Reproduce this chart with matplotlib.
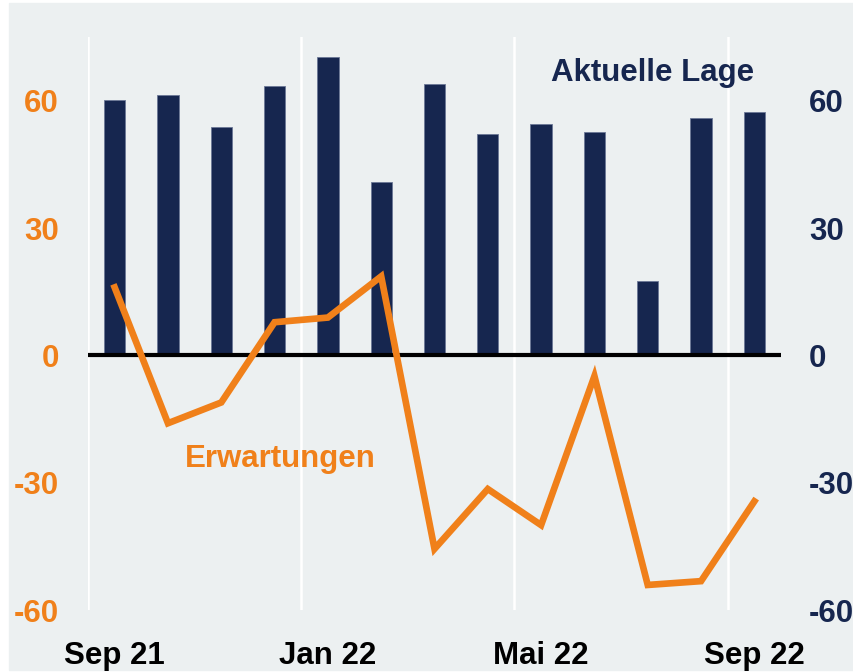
import matplotlib.pyplot as plt
from matplotlib.patches import Rectangle

# Daten (Sep 21 - Sep 22)
monate = ['Sep 21', 'Okt 21', 'Nov 21', 'Dez 21', 'Jan 22', 'Feb 22', 'Mrz 22',
          'Apr 22', 'Mai 22', 'Jun 22', 'Jul 22', 'Aug 22', 'Sep 22']
aktuelle_lage = [60.2, 61.4, 53.9, 63.5, 70.4, 40.9, 64.0, 52.2, 54.6, 52.5, 17.6, 55.8, 57.4]
erwartungen = [16.0, -16.0, -11.1, 7.8, 8.9, 18.6, -45.6, -31.5, -40.0, -4.9, -54.1, -53.2, -34.4]
tick_idx = [0, 4, 8, 12]
y_ticks = [-60, -30, 0, 30, 60]

navy = '#16264f'
orange = '#f0801a'
bg = '#ecf0f1'

plt.rcParams['font.family'] = ['Liberation Sans', 'DejaVu Sans']
plt.rcParams['font.weight'] = 'bold'

fig = plt.figure(figsize=(8.54, 6.72), dpi=100, facecolor='white')
fig.patches.append(Rectangle((9 / 854, 2 / 672), 1 - 9 / 854, 1 - 5 / 672,
                             transform=fig.transFigure, color=bg, zorder=-10))

ax = fig.add_axes([88 / 854, 1 - 610 / 672, (781 - 88) / 854, (610 - 37) / 672])
ax.set_facecolor(bg)
for s in ax.spines.values():
    s.set_visible(False)

x = list(range(len(monate)))

# Monatsgrenzen als weiße Gitterlinien
for i in tick_idx:
    ax.axvline(i - 0.5, color='white', lw=1.8, zorder=0)

ax.bar(x, aktuelle_lage, width=0.4, color=navy, edgecolor='#6b7796', linewidth=0.6, zorder=2)
ax.axhline(0, color='black', lw=3, zorder=3)
ax.plot(x, erwartungen, color=orange, lw=4.8, zorder=4, solid_joinstyle='miter')

ax.set_xlim(-0.5, 12.5)
ax.set_ylim(-60, 75)
ax.set_yticks(y_ticks)
ax.set_yticklabels([str(v) for v in y_ticks], fontweight='bold')
ax.tick_params(axis='y', length=0, pad=21, labelsize=22.5, labelcolor=orange)
ax.set_xticks(tick_idx)
ax.set_xticklabels([monate[i] for i in tick_idx], fontweight='bold')
ax.tick_params(axis='x', length=0, pad=22, labelsize=22.5, labelcolor='black')

ax2 = ax.twinx()
ax2.set_ylim(-60, 75)
ax2.set_yticks(y_ticks)
ax2.set_yticklabels([str(v) for v in y_ticks], ha='left', fontweight='bold')
ax2.tick_params(axis='y', length=0, pad=20, labelsize=22.5, labelcolor=navy)
for s in ax2.spines.values():
    s.set_visible(False)

ax.text(10.1, 66.5, 'Aktuelle Lage', color=navy, fontsize=22.5, fontweight='bold',
        ha='center', va='center', zorder=5)
ax.text(3.1, -24.5, 'Erwartungen', color=orange, fontsize=22.5, fontweight='bold',
        ha='center', va='center', zorder=5)

fig.savefig('out.png', dpi=100, facecolor=fig.get_facecolor())
